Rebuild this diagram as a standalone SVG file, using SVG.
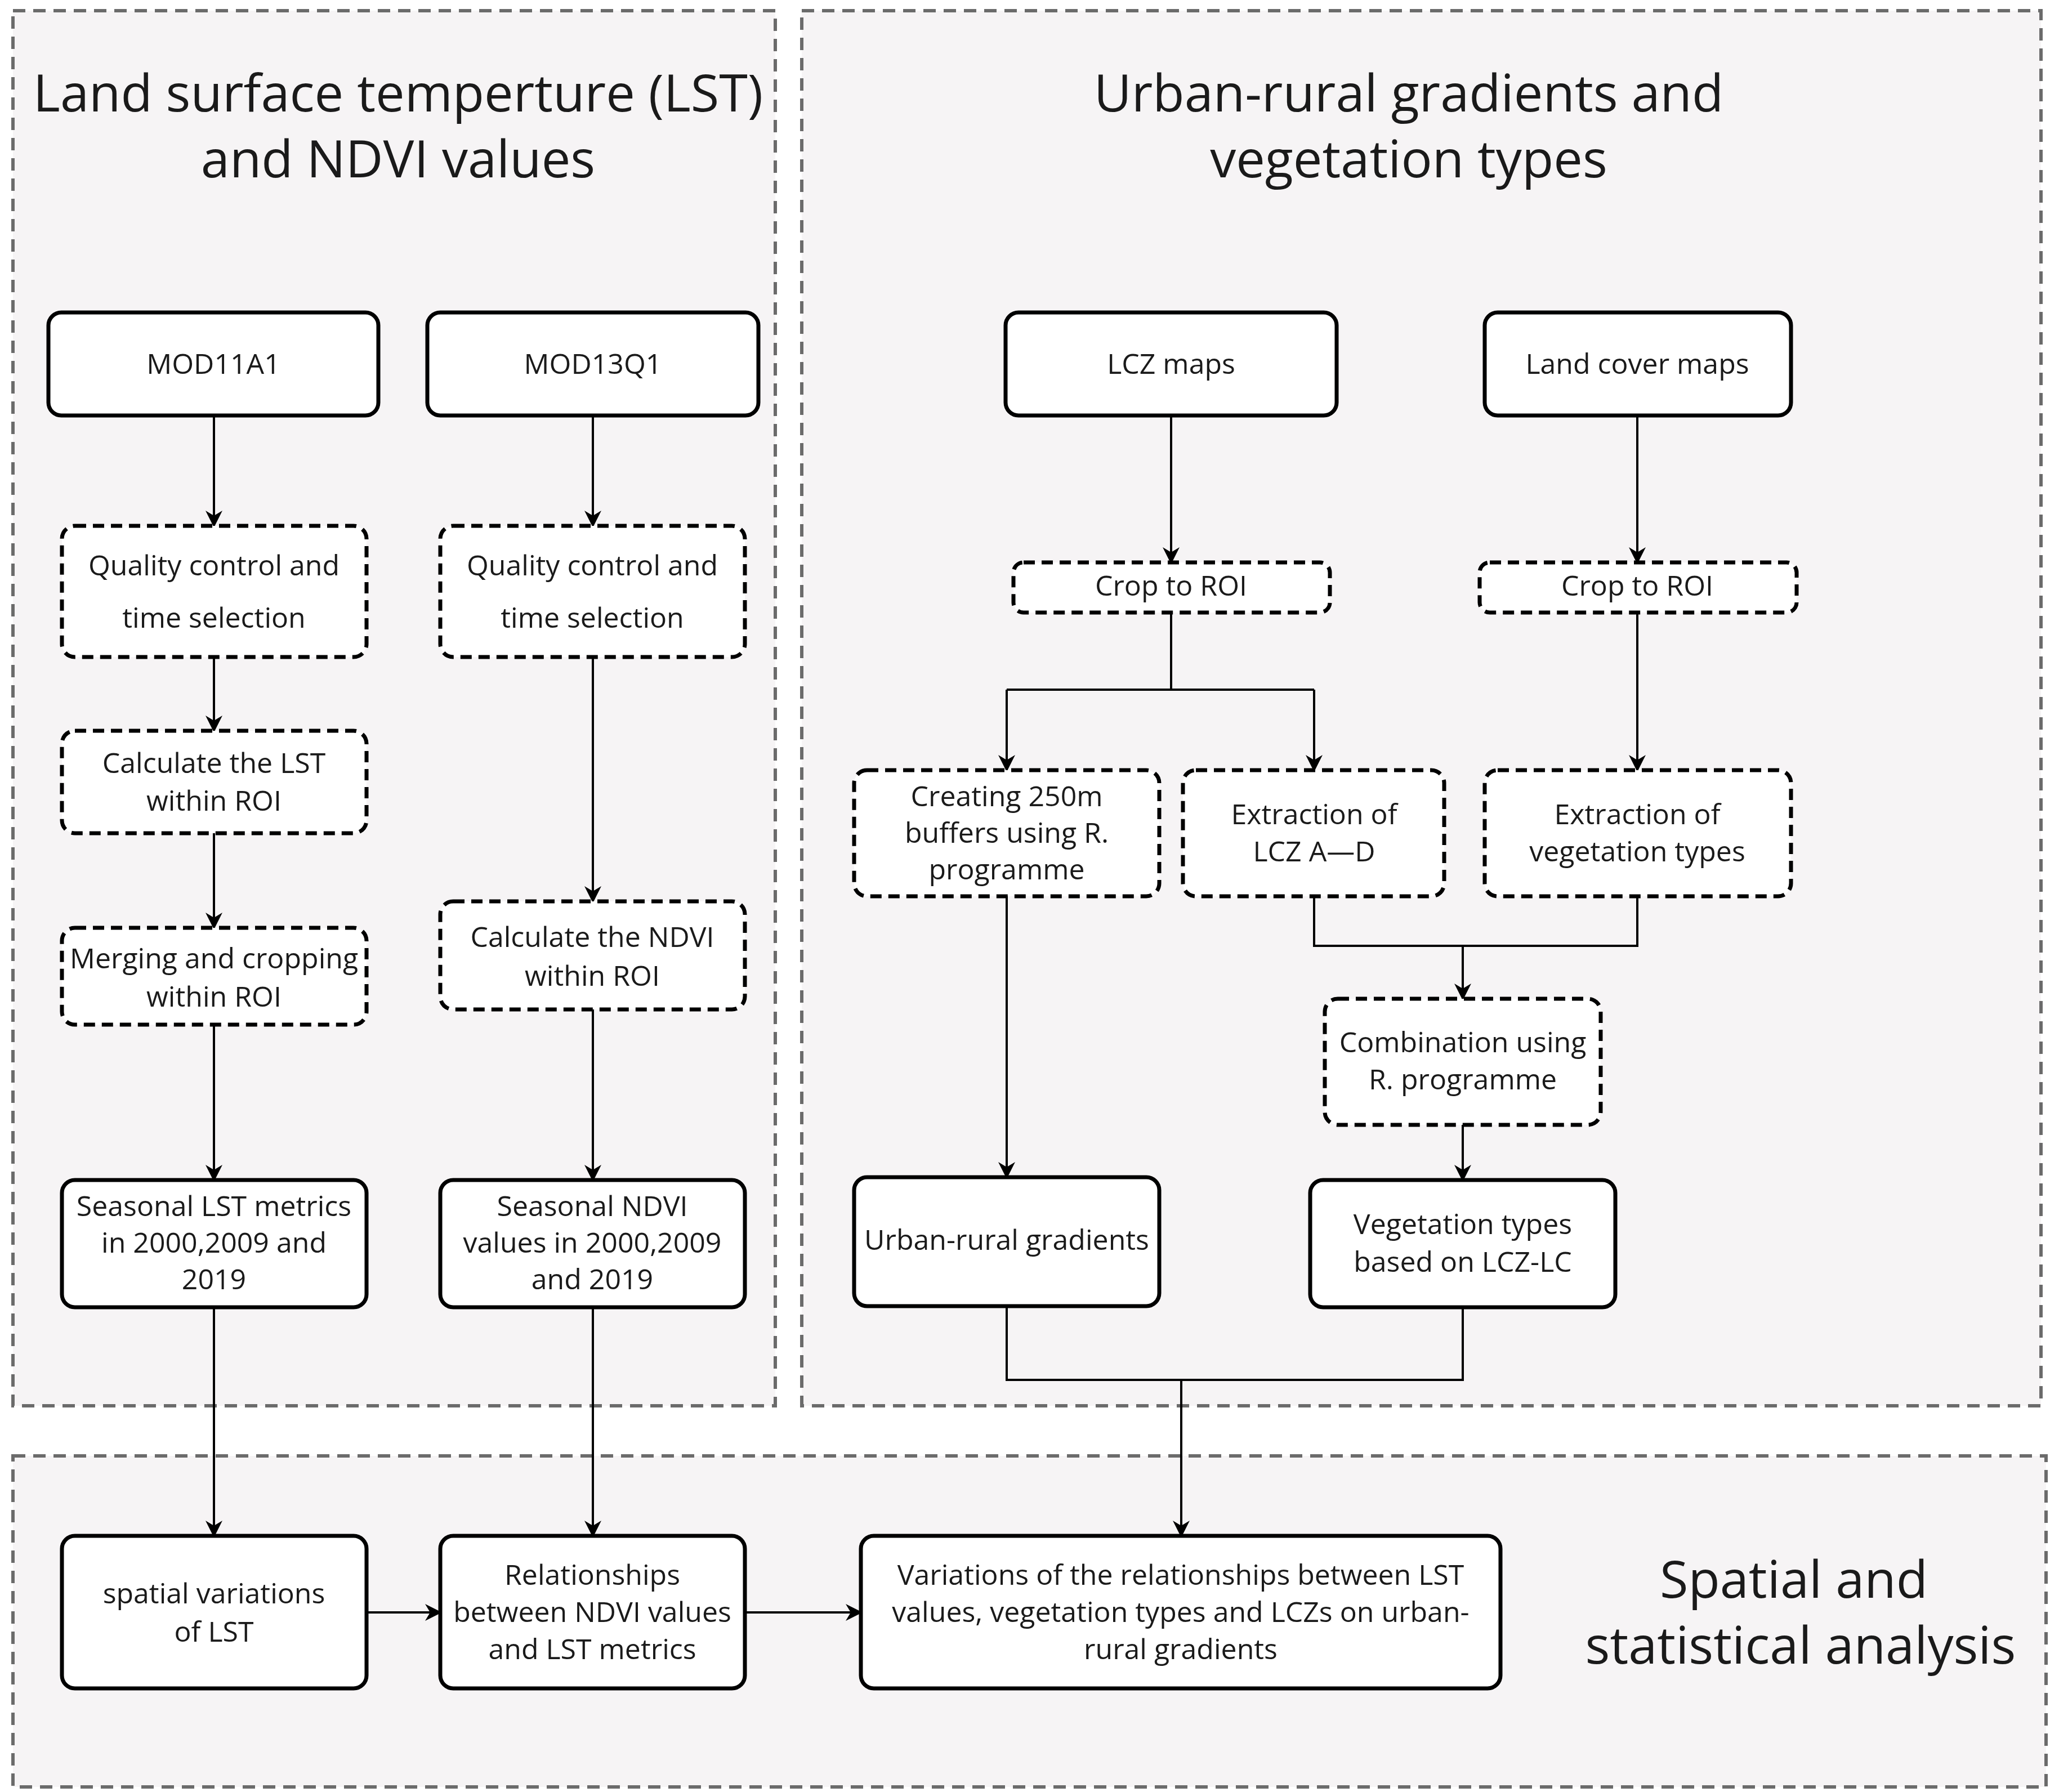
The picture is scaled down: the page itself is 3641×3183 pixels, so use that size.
<svg xmlns="http://www.w3.org/2000/svg" width="3641" height="3183" viewBox="0 0 3641 3183">
<defs>
<style>
.panel{fill:#f6f4f5;stroke:#6b6b6b;stroke-width:6;stroke-dasharray:22 14}
.n{fill:#fff;stroke:#000;stroke-width:7}
.d{fill:#fff;stroke:#000;stroke-width:7;stroke-dasharray:20 12}
text{font-family:"Open Sans","Liberation Sans",sans-serif;text-anchor:middle;fill:#1a1a1a}
.t{font-size:50px}
.h{font-size:92px}
.c{fill:none;stroke:#000;stroke-width:4;marker-end:url(#a)}
.l{fill:none;stroke:#000;stroke-width:4}
</style>
<marker id="a" viewBox="0 0 10 10" refX="9" refY="5" markerWidth="7" markerHeight="7" markerUnits="userSpaceOnUse" orient="auto"><path d="M0,0 L10,5 L0,10 L3,5 z" fill="#000" transform="scale(1)"/></marker>
<marker id="a2" viewBox="0 0 10 10" refX="9" refY="5" markerWidth="30" markerHeight="30" markerUnits="userSpaceOnUse" orient="auto"><path d="M0,0 L10,5 L0,10 L3,5 z" fill="#000"/></marker>
</defs>
<style>.c{marker-end:url(#a2)}</style>
<rect width="3641" height="3183" fill="#fff"/>
<g id="panels">
<rect class="panel" x="23" y="19" width="1354" height="2478"/>
<rect class="panel" x="1424" y="19" width="2201" height="2478"/>
<rect class="panel" x="23" y="2586" width="3611" height="588"/>
<text class="h" x="707" y="198">Land surface temperture (LST)</text>
<text class="h" x="707" y="315">and NDVI values</text>
<text class="h" x="2502" y="198">Urban-rural gradients and</text>
<text class="h" x="2502" y="315">vegetation types</text>
<text class="h" x="3186" y="2838">Spatial and</text>
<text class="h" x="3198" y="2955">statistical analysis</text>
</g>
<g id="connectors">
<path class="c" d="M380,738 V934"/>
<path class="c" d="M380,1167 V1298"/>
<path class="c" d="M380,1480 V1648"/>
<path class="c" d="M380,1820 V2096"/>
<path class="c" d="M380,2322 V2728"/>
<path class="c" d="M1053,738 V934"/>
<path class="c" d="M1053,1167 V1601"/>
<path class="c" d="M1053,1793 V2096"/>
<path class="c" d="M1053,2322 V2728"/>
<path class="c" d="M651,2864 H782"/>
<path class="c" d="M1323,2864 H1529"/>
<path class="c" d="M2080,738 V999"/>
<path class="c" d="M2908,738 V999"/>
<path class="l" d="M2080,1088 V1225 H1788 M2080,1225 H2334"/>
<path class="c" d="M1788,1225 V1368"/>
<path class="c" d="M2334,1225 V1368"/>
<path class="c" d="M2908,1088 V1368"/>
<path class="l" d="M2334,1592 V1680 H2908 V1592"/>
<path class="c" d="M2598,1680 V1774"/>
<path class="c" d="M2598,1998 V2096"/>
<path class="c" d="M1788,1592 V2091"/>
<path class="l" d="M1788,2320 V2451 H2598 V2322"/>
<path class="c" d="M2098,2451 V2728"/>
</g>
<g id="mod11a1"><rect class="n" x="86" y="555" width="586" height="183" rx="23"/><text class="t" x="379" y="664">MOD11A1</text></g>
<g id="mod13q1"><rect class="n" x="759" y="555" width="588" height="183" rx="23"/><text class="t" x="1053" y="664">MOD13Q1</text></g>
<g id="qc1"><rect class="d" x="110" y="934" width="541" height="233" rx="23"/><text class="t" x="380" y="1022">Quality control and</text><text class="t" x="380" y="1115">time selection</text></g>
<g id="qc2"><rect class="d" x="782" y="934" width="541" height="233" rx="23"/><text class="t" x="1052" y="1022">Quality control and</text><text class="t" x="1052" y="1115">time selection</text></g>
<g id="calclst"><rect class="d" x="110" y="1298" width="541" height="182" rx="23"/><text class="t" x="380" y="1373">Calculate the LST</text><text class="t" x="380" y="1440">within ROI</text></g>
<g id="merge"><rect class="d" x="110" y="1648" width="541" height="172" rx="23"/><text class="t" x="380" y="1720">Merging and cropping</text><text class="t" x="380" y="1788">within ROI</text></g>
<g id="calcndvi"><rect class="d" x="782" y="1601" width="541" height="192" rx="23"/><text class="t" x="1052" y="1682">Calculate the NDVI</text><text class="t" x="1052" y="1751">within ROI</text></g>
<g id="seaslst"><rect class="n" x="110" y="2096" width="541" height="226" rx="23"/><text class="t" x="380" y="2160">Seasonal LST metrics</text><text class="t" x="380" y="2225">in 2000,2009 and</text><text class="t" x="380" y="2290">2019</text></g>
<g id="seasndvi"><rect class="n" x="782" y="2096" width="541" height="226" rx="23"/><text class="t" x="1052" y="2160">Seasonal NDVI</text><text class="t" x="1052" y="2225">values in 2000,2009</text><text class="t" x="1052" y="2290">and 2019</text></g>
<g id="lcz"><rect class="n" x="1786" y="555" width="588" height="183" rx="23"/><text class="t" x="2080" y="664">LCZ maps</text></g>
<g id="lc"><rect class="n" x="2637" y="555" width="544" height="183" rx="23"/><text class="t" x="2908" y="664">Land cover maps</text></g>
<g id="crop1"><rect class="d" x="1800" y="999" width="562" height="89" rx="18"/><text class="t" x="2080" y="1058">Crop to ROI</text></g>
<g id="crop2"><rect class="d" x="2628" y="999" width="563" height="89" rx="18"/><text class="t" x="2908" y="1058">Crop to ROI</text></g>
<g id="buffers"><rect class="d" x="1517" y="1368" width="542" height="224" rx="23"/><text class="t" x="1788" y="1432">Creating 250m</text><text class="t" x="1788" y="1497">buffers using R.</text><text class="t" x="1788" y="1562">programme</text></g>
<g id="extlcz"><rect class="d" x="2101" y="1368" width="464" height="224" rx="23"/><text class="t" x="2334" y="1464">Extraction of</text><text class="t" x="2334" y="1530">LCZ A—D</text></g>
<g id="extveg"><rect class="d" x="2637" y="1368" width="544" height="224" rx="23"/><text class="t" x="2908" y="1464">Extraction of</text><text class="t" x="2908" y="1530">vegetation types</text></g>
<g id="comb"><rect class="d" x="2353" y="1774" width="490" height="224" rx="23"/><text class="t" x="2598" y="1869">Combination using</text><text class="t" x="2598" y="1935">R. programme</text></g>
<g id="urban"><rect class="n" x="1517" y="2091" width="542" height="229" rx="23"/><text class="t" x="1788" y="2220">Urban-rural gradients</text></g>
<g id="vegtypes"><rect class="n" x="2327" y="2096" width="542" height="226" rx="23"/><text class="t" x="2598" y="2192">Vegetation types</text><text class="t" x="2598" y="2259">based on LCZ-LC</text></g>
<g id="spatial"><rect class="n" x="110" y="2728" width="541" height="271" rx="23"/><text class="t" x="380" y="2848">spatial variations</text><text class="t" x="380" y="2916">of LST</text></g>
<g id="rel"><rect class="n" x="782" y="2728" width="541" height="271" rx="23"/><text class="t" x="1052" y="2815">Relationships</text><text class="t" x="1052" y="2881">between NDVI values</text><text class="t" x="1052" y="2947">and LST metrics</text></g>
<g id="variations"><rect class="n" x="1529" y="2728" width="1136" height="271" rx="23"/><text class="t" x="2097" y="2815">Variations of the relationships between LST</text><text class="t" x="2097" y="2881">values, vegetation types and LCZs on urban-</text><text class="t" x="2097" y="2947">rural gradients</text></g>
</svg>
